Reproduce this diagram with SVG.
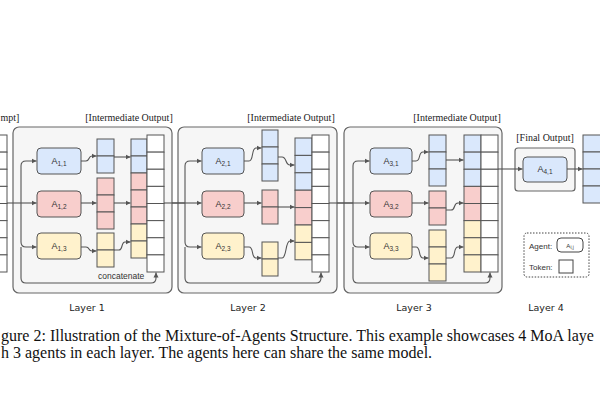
<svg xmlns="http://www.w3.org/2000/svg" width="600" height="400" viewBox="0 0 600 400">
<defs>
<marker id="arr" markerUnits="userSpaceOnUse" markerWidth="6" markerHeight="6" refX="5" refY="3" orient="auto">
<path d="M0,0.5 L5,3 L0,5.5 z" fill="#555"/>
</marker>
<style>
.layer{fill:#f6f6f6;stroke:#666;stroke-width:1.2}
.agent{stroke:#555;stroke-width:1.2}
.b{fill:#dae8fc;stroke:#555;stroke-width:1}
.r{fill:#f8cecc;stroke:#555;stroke-width:1}
.y{fill:#fff2cc;stroke:#555;stroke-width:1}
.w{fill:#fff;stroke:#555;stroke-width:1}
.c{fill:none;stroke:#555;stroke-width:1.1;marker-end:url(#arr)}
.l{fill:none;stroke:#555;stroke-width:1.1}
.lbl{font-family:"Liberation Serif",serif;font-size:10px;fill:#222}
.ag{font-family:"Liberation Sans",sans-serif;font-size:9px;fill:#333;text-anchor:middle}
.ly{font-family:"DejaVu Sans",sans-serif;font-size:9.5px;fill:#222;text-anchor:middle}
.cap{font-family:"Liberation Serif",serif;font-size:16px;fill:#111}
</style>
</defs>
<rect width="600" height="400" fill="#fff"/>

<!-- layer containers -->
<g id="layer1"><rect class="layer" x="13" y="127" width="159" height="166" rx="6"/></g>
<g id="layer2"><rect class="layer" x="178" y="127" width="159" height="166" rx="6"/></g>
<g id="layer3"><rect class="layer" x="344" y="127" width="158" height="166" rx="6"/></g>
<g id="final-box"><rect class="layer" x="515" y="148" width="60" height="43" rx="3"/></g>

<!-- labels -->
<text class="lbl" x="0.5" y="121" font-size="9.5">mpt]</text>
<text class="lbl" x="129" y="121" text-anchor="middle">[Intermediate Output]</text>
<text class="lbl" x="291" y="121" text-anchor="middle">[Intermediate Output]</text>
<text class="lbl" x="457" y="121" text-anchor="middle">[Intermediate Output]</text>
<text class="lbl" x="545" y="141" text-anchor="middle">[Final Output]</text>

<!-- input tokens -->
<g id="input">
<rect class="w" x="-10" y="135" width="17" height="17.125"/>
<rect class="w" x="-10" y="152.125" width="17" height="17.125"/>
<rect class="w" x="-10" y="169.25" width="17" height="17.125"/>
<rect class="w" x="-10" y="186.375" width="17" height="17.125"/>
<rect class="w" x="-10" y="203.5" width="17" height="17.125"/>
<rect class="w" x="-10" y="220.625" width="17" height="17.125"/>
<rect class="w" x="-10" y="237.75" width="17" height="17.125"/>
<rect class="w" x="-10" y="254.875" width="17" height="17.125"/>
</g>

<!-- agents -->
<g id="a11"><rect class="agent b" x="37" y="148" width="44" height="26" rx="4"/><text class="ag" x="59" y="164">A<tspan font-size="6.5" dy="2">1,1</tspan></text></g>
<g id="a12"><rect class="agent r" x="37" y="191" width="44" height="26" rx="4"/><text class="ag" x="59" y="207">A<tspan font-size="6.5" dy="2">1,2</tspan></text></g>
<g id="a13"><rect class="agent y" x="37" y="233" width="44" height="26" rx="4"/><text class="ag" x="59" y="249">A<tspan font-size="6.5" dy="2">1,3</tspan></text></g>
<g id="a21"><rect class="agent b" x="202" y="148" width="42" height="26" rx="4"/><text class="ag" x="223" y="164">A<tspan font-size="6.5" dy="2">2,1</tspan></text></g>
<g id="a22"><rect class="agent r" x="202" y="191" width="42" height="26" rx="4"/><text class="ag" x="223" y="207">A<tspan font-size="6.5" dy="2">2,2</tspan></text></g>
<g id="a23"><rect class="agent y" x="202" y="233" width="42" height="26" rx="4"/><text class="ag" x="223" y="249">A<tspan font-size="6.5" dy="2">2,3</tspan></text></g>
<g id="a31"><rect class="agent b" x="370" y="148" width="42" height="26" rx="4"/><text class="ag" x="391" y="164">A<tspan font-size="6.5" dy="2">3,1</tspan></text></g>
<g id="a32"><rect class="agent r" x="370" y="191" width="42" height="26" rx="4"/><text class="ag" x="391" y="207">A<tspan font-size="6.5" dy="2">3,2</tspan></text></g>
<g id="a33"><rect class="agent y" x="370" y="233" width="42" height="26" rx="4"/><text class="ag" x="391" y="249">A<tspan font-size="6.5" dy="2">3,3</tspan></text></g>
<g id="a41"><rect class="agent b" x="523" y="157" width="44" height="25" rx="4"/><text class="ag" x="545" y="172">A<tspan font-size="6.5" dy="2">4,1</tspan></text></g>

<!-- layer 1 tokens -->
<g id="l1-tokens">
<rect class="b" x="97" y="139" width="17" height="17"/><rect class="b" x="97" y="156" width="17" height="17"/>
<rect class="r" x="97" y="178" width="17" height="17"/><rect class="r" x="97" y="195" width="17" height="17"/><rect class="r" x="97" y="212" width="17" height="17"/>
<rect class="y" x="97" y="233" width="17" height="17"/><rect class="y" x="97" y="250" width="17" height="17"/>
<rect class="b" x="131" y="139" width="16" height="17"/><rect class="b" x="131" y="156" width="16" height="17"/>
<rect class="r" x="131" y="173" width="16" height="17"/><rect class="r" x="131" y="190" width="16" height="17"/><rect class="r" x="131" y="207" width="16" height="17"/>
<rect class="y" x="131" y="224" width="16" height="17"/><rect class="y" x="131" y="241" width="16" height="17"/>
<rect class="w" x="147" y="135" width="17" height="17.125"/><rect class="w" x="147" y="152.125" width="17" height="17.125"/><rect class="w" x="147" y="169.25" width="17" height="17.125"/><rect class="w" x="147" y="186.375" width="17" height="17.125"/><rect class="w" x="147" y="203.5" width="17" height="17.125"/><rect class="w" x="147" y="220.625" width="17" height="17.125"/><rect class="w" x="147" y="237.75" width="17" height="17.125"/><rect class="w" x="147" y="254.875" width="17" height="17.125"/>
<text x="98" y="279" font-family="Liberation Sans, sans-serif" font-size="8.5" fill="#333">concatenate</text>
</g>

<!-- layer 2 tokens -->
<g id="l2-tokens">
<rect class="b" x="262" y="130" width="16" height="17"/><rect class="b" x="262" y="147" width="16" height="17"/><rect class="b" x="262" y="164" width="16" height="17"/>
<rect class="r" x="262" y="190" width="16" height="17"/><rect class="r" x="262" y="207" width="16" height="17"/>
<rect class="y" x="262" y="242" width="16" height="17"/><rect class="y" x="262" y="259" width="16" height="17"/>
<rect class="b" x="295" y="138" width="17" height="17.4"/><rect class="b" x="295" y="155.4" width="17" height="17.4"/><rect class="b" x="295" y="172.8" width="17" height="17.4"/>
<rect class="r" x="295" y="190.2" width="17" height="17.4"/><rect class="r" x="295" y="207.6" width="17" height="17.4"/>
<rect class="y" x="295" y="225" width="17" height="17.4"/><rect class="y" x="295" y="242.4" width="17" height="17.4"/>
<rect class="w" x="312" y="135" width="17" height="17.125"/><rect class="w" x="312" y="152.125" width="17" height="17.125"/><rect class="w" x="312" y="169.25" width="17" height="17.125"/><rect class="w" x="312" y="186.375" width="17" height="17.125"/><rect class="w" x="312" y="203.5" width="17" height="17.125"/><rect class="w" x="312" y="220.625" width="17" height="17.125"/><rect class="w" x="312" y="237.75" width="17" height="17.125"/><rect class="w" x="312" y="254.875" width="17" height="17.125"/>
</g>

<!-- layer 3 tokens -->
<g id="l3-tokens">
<rect class="b" x="429" y="135" width="17" height="17"/><rect class="b" x="429" y="152" width="17" height="17"/><rect class="b" x="429" y="169" width="17" height="17"/>
<rect class="r" x="429" y="191" width="17" height="17"/><rect class="r" x="429" y="208" width="17" height="17"/>
<rect class="y" x="429" y="230" width="17" height="17"/><rect class="y" x="429" y="247" width="17" height="17"/><rect class="y" x="429" y="264" width="17" height="17"/>
<rect class="b" x="464" y="135" width="17" height="17.125"/><rect class="b" x="464" y="152.125" width="17" height="17.125"/><rect class="b" x="464" y="169.25" width="17" height="17.125"/>
<rect class="r" x="464" y="186.375" width="17" height="17.125"/><rect class="r" x="464" y="203.5" width="17" height="17.125"/>
<rect class="y" x="464" y="220.625" width="17" height="17.125"/><rect class="y" x="464" y="237.75" width="17" height="17.125"/><rect class="y" x="464" y="254.875" width="17" height="17.125"/>
<rect class="w" x="481" y="135" width="17" height="17.125"/><rect class="w" x="481" y="152.125" width="17" height="17.125"/><rect class="w" x="481" y="169.25" width="17" height="17.125"/><rect class="w" x="481" y="186.375" width="17" height="17.125"/><rect class="w" x="481" y="203.5" width="17" height="17.125"/><rect class="w" x="481" y="220.625" width="17" height="17.125"/><rect class="w" x="481" y="237.75" width="17" height="17.125"/><rect class="w" x="481" y="254.875" width="17" height="17.125"/>
</g>

<!-- final output tokens -->
<g id="final-tokens">
<rect class="b" x="583" y="135" width="20" height="17"/><rect class="b" x="583" y="152" width="20" height="17"/><rect class="b" x="583" y="169" width="20" height="17"/><rect class="b" x="583" y="186" width="20" height="17"/>
</g>

<!-- connectors -->
<g id="connectors">
<!-- layer 1 -->
<path class="c" d="M7 203 H36.5"/>
<path class="c" d="M21 203 V166 Q21 161 26 161 H36.5"/>
<path class="c" d="M21 203 V242 Q21 247 26 247 H36.5"/>
<path class="c" d="M21 247 V278 Q21 283 26 283 H151 Q156 283 156 278 V272.5"/>
<path class="c" d="M81 161 H86 C90 161 88 156 92 156 H96.5"/>
<path class="c" d="M81 203 H96.5"/>
<path class="c" d="M81 247 H86 C90 247 88 251 92 251 H96.5"/>
<path class="c" d="M114 157 H130.5"/>
<path class="c" d="M114 203 H130.5"/>
<path class="c" d="M114 250 H119 C123 250 121 242 125 242 H130.5"/>
<!-- layer 2 -->
<path class="l" d="M164 203 H185"/>
<path class="c" d="M172 203 H201.5"/>
<path class="c" d="M185 203 V166 Q185 161 190 161 H201.5"/>
<path class="c" d="M185 203 V242 Q185 247 190 247 H201.5"/>
<path class="c" d="M185 247 V278 Q185 283 190 283 H316 Q321 283 321 278 V272.5"/>
<path class="c" d="M244 161 H249 C254 161 251 148 256 148 H261.5"/>
<path class="c" d="M244 203 H261.5"/>
<path class="c" d="M244 247 H249 C254 247 251 258 256 258 H261.5"/>
<path class="c" d="M278 157 H282 C287 157 285 165 290 165 H294.5"/>
<path class="c" d="M278 207 H294.5"/>
<path class="c" d="M278 258 H282 C287 258 285 241 290 241 H294.5"/>
<!-- layer 3 -->
<path class="l" d="M329 203 H353"/>
<path class="c" d="M337 203 H369.5"/>
<path class="c" d="M353 203 V166 Q353 161 358 161 H369.5"/>
<path class="c" d="M353 203 V242 Q353 247 358 247 H369.5"/>
<path class="c" d="M353 247 V278 Q353 283 358 283 H485 Q490 283 490 278 V272.5"/>
<path class="c" d="M412 161 H416 C421 161 418 152 423 152 H428.5"/>
<path class="c" d="M412 203 H428.5"/>
<path class="c" d="M412 247 H416 C421 247 418 258 423 258 H428.5"/>
<path class="c" d="M446 160 H463.5"/>
<path class="c" d="M446 210 H451 C456 210 453 203 458 203 H463.5"/>
<path class="c" d="M446 258 H451 C456 258 453 247 458 247 H463.5"/>
<!-- layer 4 -->
<path class="c" d="M498 169 H522.5"/>
<path class="c" d="M567 169 H582.5"/>
</g>

<!-- legend -->
<g id="legend">
<rect x="524" y="233" width="65" height="44" rx="3" fill="#fff" stroke="#444" stroke-width="1" stroke-dasharray="1.5,1.5"/>
<text x="529" y="249" font-family="Liberation Sans, sans-serif" font-size="8" fill="#333">Agent:</text>
<rect x="557" y="238" width="26" height="14" rx="4" fill="#fff" stroke="#444" stroke-width="1"/>
<text x="570" y="247.5" font-family="Liberation Sans, sans-serif" font-size="6" fill="#333" text-anchor="middle">A<tspan font-size="4.5" dy="1.5">i,j</tspan></text>
<text x="529" y="270" font-family="Liberation Sans, sans-serif" font-size="8" fill="#333">Token:</text>
<rect x="559" y="260" width="14" height="13" fill="#fff" stroke="#444" stroke-width="1"/>
</g>

<!-- layer names -->
<text class="ly" x="87" y="311">Layer 1</text>
<text class="ly" x="248" y="311">Layer 2</text>
<text class="ly" x="414" y="311">Layer 3</text>
<text class="ly" x="546" y="311">Layer 4</text>

<!-- caption -->
<text class="cap" x="1" y="341">gure 2: Illustration of the Mixture-of-Agents Structure. This example showcases 4 MoA laye</text>
<text class="cap" x="1" y="358">h 3 agents in each layer. The agents here can share the same model.</text>
</svg>
